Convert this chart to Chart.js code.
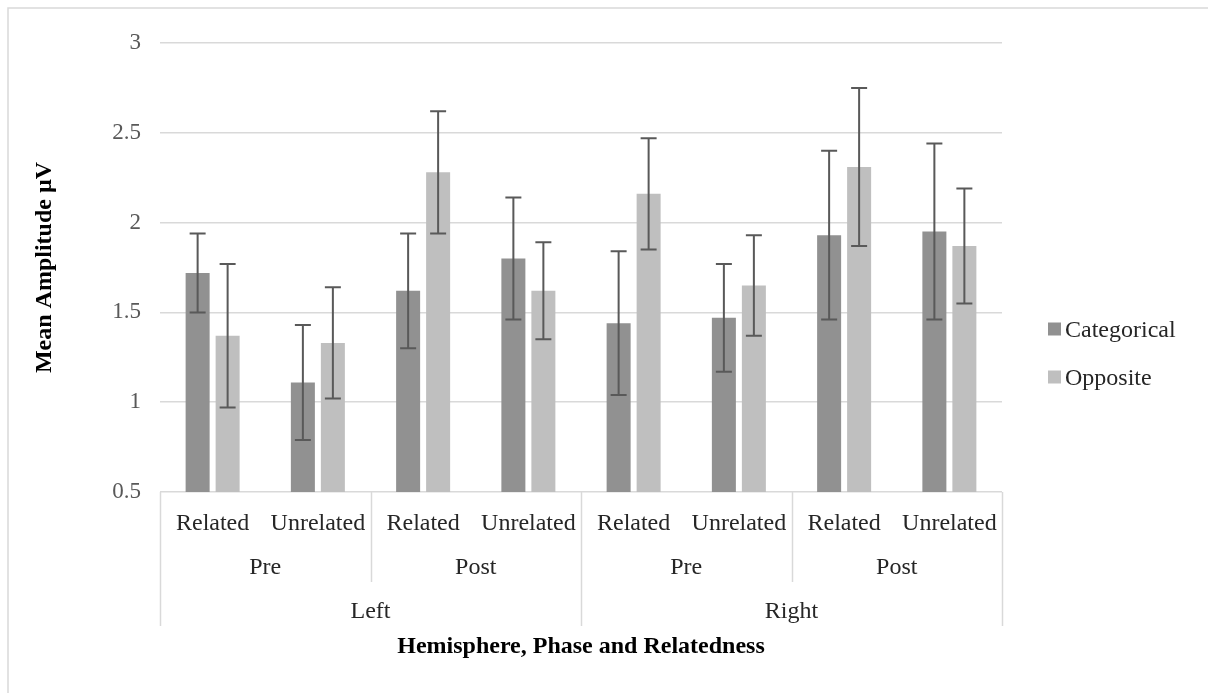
<!DOCTYPE html>
<html>
<head>
<meta charset="utf-8">
<script src="https://cdn.jsdelivr.net/npm/chart.js@4.4.1/dist/chart.umd.min.js"></script>
<style>
  html, body { margin: 0; padding: 0; background: #fff; overflow: hidden; }
</style>
</head>
<body>
<canvas id="amplitude_chart" width="1208" height="693"></canvas>
<script>
// values
var relatedness = ['Related', 'Unrelated', 'Related', 'Unrelated', 'Related', 'Unrelated', 'Related', 'Unrelated'];
var phases = ['Pre', 'Post', 'Pre', 'Post'];
var hemispheres = ['Left', 'Right'];

var categorical = [1.72, 1.11, 1.62, 1.80, 1.44, 1.47, 1.93, 1.95];
var categoricalErr = [0.22, 0.32, 0.32, 0.34, 0.40, 0.30, 0.47, 0.49];
var opposite = [1.37, 1.33, 2.28, 1.62, 2.16, 1.65, 2.31, 1.87];
var oppositeErr = [0.40, 0.31, 0.34, 0.27, 0.31, 0.28, 0.44, 0.32];

var yMin = 0.5, yMax = 3, yStep = 0.5;

var serif = "'Liberation Serif', 'Times New Roman', serif";
var gridColor = '#d9d9d9';

var errorBars = {
    id: 'errorBars',
    afterDatasetsDraw: function (chart) {
        var ctx = chart.ctx;
        var yScale = chart.scales.y;
        ctx.save();
        ctx.strokeStyle = '#595959';
        ctx.lineWidth = 2;
        chart.data.datasets.forEach(function (ds, i) {
            var meta = chart.getDatasetMeta(i);
            meta.data.forEach(function (bar, j) {
                var hi = yScale.getPixelForValue(ds.data[j] + ds.errors[j]);
                var lo = yScale.getPixelForValue(ds.data[j] - ds.errors[j]);
                ctx.beginPath();
                ctx.moveTo(bar.x, hi);
                ctx.lineTo(bar.x, lo);
                ctx.moveTo(bar.x - 8, hi);
                ctx.lineTo(bar.x + 8, hi);
                ctx.moveTo(bar.x - 8, lo);
                ctx.lineTo(bar.x + 8, lo);
                ctx.stroke();
            });
        });
        ctx.restore();
    }
};

var groupAxis = {
    id: 'groupAxis',
    beforeDraw: function (chart) {
        var ctx = chart.ctx;
        ctx.save();
        ctx.strokeStyle = gridColor;
        ctx.lineWidth = 1.5;
        ctx.beginPath();
        ctx.moveTo(8, chart.height + 10);
        ctx.lineTo(8, 8);
        ctx.lineTo(chart.width + 10, 8);
        ctx.stroke();
        ctx.restore();
    },
    afterDraw: function (chart) {
        var ctx = chart.ctx;
        var xs = chart.scales.x;
        var base = chart.chartArea.bottom;
        var half = (xs.getPixelForValue(1) - xs.getPixelForValue(0)) / 2;
        var edge = function (k) { return xs.getPixelForValue(k) - half; };

        ctx.save();
        ctx.strokeStyle = gridColor;
        ctx.lineWidth = 1.5;
        // separators between phases and hemispheres
        for (var k = 0; k <= relatedness.length; k += 2) {
            var full = (k % 4 === 0);
            var x = Math.round(edge(k)) + 0.5;
            ctx.beginPath();
            ctx.moveTo(x, base);
            ctx.lineTo(x, full ? base + 134 : base + 90);
            ctx.stroke();
        }

        ctx.fillStyle = '#262626';
        ctx.font = '24px ' + serif;
        ctx.textAlign = 'center';
        ctx.textBaseline = 'middle';
        phases.forEach(function (p, i) {
            var cx = (xs.getPixelForValue(2 * i) + xs.getPixelForValue(2 * i + 1)) / 2;
            ctx.fillText(p, cx, base + 76);
        });
        hemispheres.forEach(function (h, i) {
            var cx = (edge(4 * i) + edge(4 * i + 4)) / 2;
            ctx.fillText(h, cx, base + 120);
        });

        // legend
        ctx.textAlign = 'left';
        chart.data.datasets.forEach(function (ds, i) {
            var ly = 329 + i * 48;
            ctx.fillStyle = ds.backgroundColor;
            ctx.fillRect(1048, ly - 6.5, 13, 13);
            ctx.fillStyle = '#262626';
            ctx.fillText(ds.label, 1065, ly + 2);
        });
        ctx.restore();
    }
};

var ctx = document.getElementById('amplitude_chart');
var chart = new Chart(ctx, {
    type: 'bar',
    data: {
        labels: relatedness,
        datasets: [
            {
                label: 'Categorical',
                data: categorical,
                errors: categoricalErr,
                backgroundColor: '#919191',
                barPercentage: 0.8,
                categoryPercentage: 0.57
            },
            {
                label: 'Opposite',
                data: opposite,
                errors: oppositeErr,
                backgroundColor: '#bfbfbf',
                barPercentage: 0.8,
                categoryPercentage: 0.57
            }
        ]
    },
    options: {
        responsive: false,
        animation: false,
        layout: { padding: { left: 22, right: 206, top: 43, bottom: 30 } },
        plugins: {
            legend: { display: false },
            tooltip: { enabled: false }
        },
        scales: {
            x: {
                grid: { display: false },
                border: { display: false },
                ticks: {
                    autoSkip: false,
                    maxRotation: 0,
                    padding: 9,
                    color: '#262626',
                    font: { family: serif, size: 24 }
                },
                title: {
                    display: true,
                    text: 'Hemisphere, Phase and Relatedness',
                    color: '#000',
                    padding: { top: 0, bottom: 2 },
                    font: { family: serif, size: 24, weight: 'bold' }
                },
                afterFit: function (scale) { scale.height = 171; }
            },
            y: {
                min: yMin,
                max: yMax,
                grid: { color: gridColor, lineWidth: 1.5, drawTicks: false },
                border: { display: false },
                ticks: {
                    stepSize: yStep,
                    padding: 19,
                    color: '#595959',
                    font: { family: serif, size: 23 },
                    callback: function (value) { return String(value); }
                },
                title: {
                    display: true,
                    text: 'Mean Amplitude µV',
                    color: '#000',
                    padding: { top: 8, bottom: 0 },
                    font: { family: serif, size: 24, weight: 'bold' }
                },
                afterFit: function (scale) { scale.width = 138; }
            }
        }
    },
    plugins: [errorBars, groupAxis]
});
</script>
</body>
</html>
